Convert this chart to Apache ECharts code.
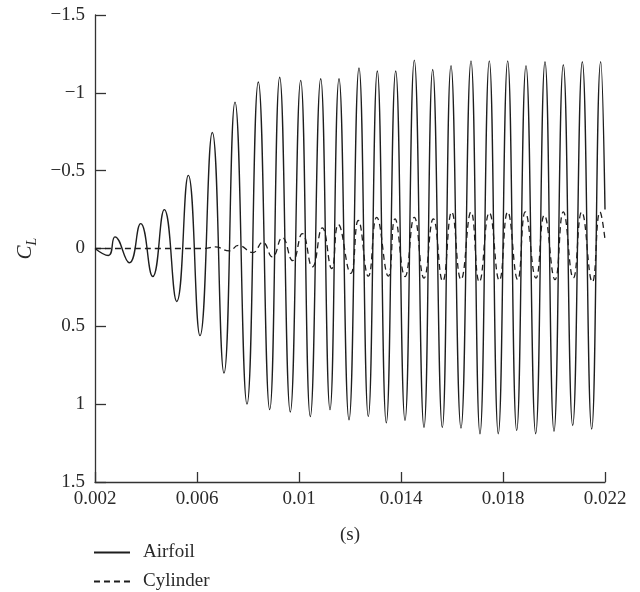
<!DOCTYPE html>
<html>
<head>
<meta charset="utf-8">
<script src="https://cdn.jsdelivr.net/npm/echarts@6/dist/echarts.min.js"></script>
<style>html,body{margin:0;padding:0;background:#fff}#c{width:640px;height:592px}</style>
</head>
<body>
<div id="c"></div>
<script>
// Airfoil lift coefficient: time (s) and C_L at extremes
const airfoilT = [0.002,0.002522,0.002784,0.003345,0.003792,0.004263,0.004718,0.005204,0.005659,0.006118,
  0.006600,0.007059,0.007490,0.007961,0.008404,0.008851,0.009243,0.009659,0.010067,0.010443,
  0.010851,0.011216,0.011569,0.011961,0.012353,0.012718,0.013071,0.013424,0.013792,0.014157,
  0.014522,0.014902,0.015243,0.015620,0.015961,0.016353,0.016745,0.017098,0.017463,0.017816,
  0.018184,0.018537,0.018902,0.019282,0.019647,0.020000,0.020365,0.020733,0.021110,0.021478,
  0.021831,0.022];
const airfoilCL = [0,0.045,-0.075,0.092,-0.16,0.18,-0.25,0.34,-0.47,0.56,
  -0.745,0.80,-0.94,1.0,-1.07,1.035,-1.10,1.05,-1.08,1.08,
  -1.09,1.035,-1.09,1.10,-1.16,1.08,-1.14,1.12,-1.14,1.105,
  -1.21,1.15,-1.15,1.15,-1.175,1.154,-1.205,1.19,-1.205,1.19,
  -1.205,1.17,-1.175,1.19,-1.20,1.175,-1.18,1.137,-1.20,1.16,
  -1.20,-0.25];
// Cylinder lift coefficient
const cylinderT = [0.002,0.006314,0.006706,0.007267,0.007620,0.008184,0.008576,0.008953,0.009345,0.009753,
  0.010129,0.010522,0.010914,0.011282,0.011541,0.012027,0.012325,0.012718,0.013047,0.013502,
  0.013765,0.014157,0.014522,0.014902,0.015267,0.015635,0.015988,0.016353,0.016745,0.017071,
  0.017463,0.017855,0.018184,0.018576,0.018875,0.019294,0.019620,0.020039,0.020365,0.020757,
  0.021086,0.021502,0.021804,0.022];
const cylinderCL = [0,0,-0.01,0.015,-0.02,0.026,-0.04,0.054,-0.07,0.078,
  -0.096,0.118,-0.133,0.129,-0.154,0.16,-0.18,0.178,-0.2,0.178,
  -0.19,0.18,-0.2,0.19,-0.19,0.21,-0.235,0.2,-0.235,0.215,
  -0.23,0.205,-0.235,0.2,-0.235,0.19,-0.214,0.2,-0.235,0.19,
  -0.235,0.215,-0.235,-0.058];
const xTickLabels = ['0.002','0.006','0.01','0.014','0.018','0.022'];
const yTickLabels = ['\u22121.5','\u22121','\u22120.5','0','0.5','1','1.5'];
const seriesNames = ['Airfoil','Cylinder'];

const FONT = 'Liberation Serif';
const TXT = '#2a2a2a';
const chart = echarts.init(document.getElementById('c'), null, {renderer:'canvas'});
const zip = (a,b) => a.map((v,i)=>[v,b[i]]);
chart.setOption({
  animation:false,
  backgroundColor:'#fff',
  grid:{left:95,right:35,top:15,bottom:110,containLabel:false},
  xAxis:{
    type:'value',min:0.002,max:0.022,interval:0.004,
    name:'(s)',nameLocation:'middle',nameGap:44,
    nameTextStyle:{fontFamily:FONT,fontSize:19,color:TXT},
    axisLine:{show:true,onZero:false,lineStyle:{color:'#333',width:1.3}},
    axisTick:{show:true,inside:true,length:10,lineStyle:{color:'#333',width:1.3}},
    axisLabel:{fontFamily:FONT,fontSize:19,color:TXT,margin:8,
      formatter:(v,i)=>xTickLabels[i]},
    splitLine:{show:false}
  },
  yAxis:{
    type:'value',min:-1.5,max:1.5,interval:0.5,inverse:true,
    name:'{c|C}{l|L}',nameLocation:'middle',nameGap:58,nameRotate:90,
    nameTextStyle:{fontFamily:FONT,color:TXT,rich:{
      c:{fontFamily:FONT,fontSize:21,fontStyle:'italic',color:TXT,lineHeight:24,verticalAlign:'bottom'},
      l:{fontFamily:FONT,fontSize:14,fontStyle:'italic',color:TXT,lineHeight:24,verticalAlign:'bottom',padding:[0,0,-4,0]}
    }},
    axisLine:{show:true,onZero:false,lineStyle:{color:'#333',width:1.3}},
    axisTick:{show:true,inside:true,length:11,lineStyle:{color:'#333',width:1.3}},
    axisLabel:{fontFamily:FONT,fontSize:19,color:TXT,margin:10,
      formatter:(v,i)=>yTickLabels[i]},
    splitLine:{show:false}
  },
  legend:{
    orient:'vertical',left:93,top:543,padding:0,itemWidth:36,itemHeight:14,itemGap:10,
    itemStyle:{color:'rgba(0,0,0,0)',borderColor:'rgba(0,0,0,0)',borderWidth:0,opacity:0},
    textStyle:{fontFamily:FONT,fontSize:19,lineHeight:18,color:TXT,padding:[0,0,0,8]},
    data:seriesNames
  },
  series:[
    {name:seriesNames[0],type:'line',data:zip(airfoilT,airfoilCL),symbol:'none',smooth:0.5,
      lineStyle:{color:'#1e1e1e',width:1.4,type:'solid'},itemStyle:{color:'#1e1e1e'}},
    {name:seriesNames[1],type:'line',data:zip(cylinderT,cylinderCL),symbol:'none',smooth:0.5,
      lineStyle:{color:'#1e1e1e',width:1.3,type:[6,4]},itemStyle:{color:'#1e1e1e'}}
  ]
});
</script>
</body>
</html>
